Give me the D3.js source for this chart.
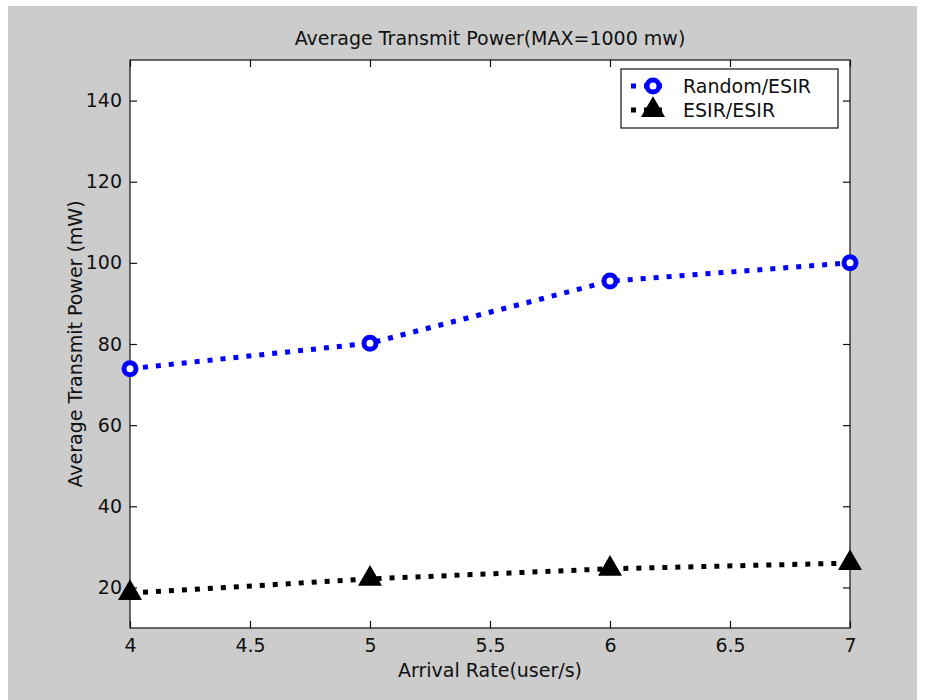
<!DOCTYPE html>
<html>
<head>
<meta charset="utf-8">
<script src="https://cdn.jsdelivr.net/npm/d3@7"></script>
<style>
  html, body { margin: 0; padding: 0; background: #ffffff; }
  svg { display: block; }
  text { font-family: "DejaVu Sans", sans-serif; fill: #111; }
</style>
</head>
<body>
<script>
// Arrival rates (users per second) on the x axis
const arrivalRates = [4, 5, 6, 7];
// Average transmit power in mW for each scheme
const randomEsir = [73.9, 80.2, 95.5, 100];
const esirEsir = [18.6, 22.1, 24.6, 26.0];
const seriesNames = ["Random/ESIR", "ESIR/ESIR"];
const xTicks = [4, 4.5, 5, 5.5, 6, 6.5, 7];
const yTicks = [20, 40, 60, 80, 100, 120, 140];
const chartTitle = "Average Transmit Power(MAX=1000 mw)";
const xLabel = "Arrival Rate(user/s)";
const yLabel = "Average Transmit Power (mW)";

const W = 927, H = 700;
const box = { left: 130, right: 850, top: 60, bottom: 628 };

const svg = d3.select("body").append("svg").attr("width", W).attr("height", H);

// figure background
svg.append("rect").attr("x", 8).attr("y", 6).attr("width", 909).attr("height", H - 6)
  .attr("fill", "#cccccc");

const x = d3.scaleLinear().domain([4, 7]).range([box.left, box.right]);
const y = d3.scaleLinear().domain([10, 150]).range([box.bottom, box.top]);

// plot area
svg.append("rect")
  .attr("x", box.left).attr("y", box.top)
  .attr("width", box.right - box.left).attr("height", box.bottom - box.top)
  .attr("fill", "#ffffff").attr("stroke", "#111").attr("stroke-width", 1.2);

const fmt = d => String(d);

const gx = svg.append("g").attr("transform", `translate(0,${box.bottom})`)
  .call(d3.axisBottom(x).tickValues(xTicks).tickFormat(fmt).tickSize(-7).tickPadding(10.5));
const gxt = svg.append("g").attr("transform", `translate(0,${box.top})`)
  .call(d3.axisTop(x).tickValues(xTicks).tickFormat("").tickSize(-7));
const gy = svg.append("g").attr("transform", `translate(${box.left},0)`)
  .call(d3.axisLeft(y).tickValues(yTicks).tickFormat(fmt).tickSize(-7).tickPadding(8));
const gyr = svg.append("g").attr("transform", `translate(${box.right},0)`)
  .call(d3.axisRight(y).tickValues(yTicks).tickFormat("").tickSize(-7));

[gx, gxt, gy, gyr].forEach(g => {
  g.select(".domain").remove();
  g.selectAll(".tick line").attr("stroke", "#111").attr("stroke-width", 1.2);
  g.selectAll(".tick text").attr("font-family", "DejaVu Sans, sans-serif")
    .attr("font-size", 19).attr("fill", "#111");
});

// titles
svg.append("text").attr("x", (box.left + box.right) / 2).attr("y", 45)
  .attr("text-anchor", "middle").attr("font-size", 19).text(chartTitle);
svg.append("text").attr("x", (box.left + box.right) / 2).attr("y", 677)
  .attr("text-anchor", "middle").attr("font-size", 19).text(xLabel);
svg.append("text").attr("transform", `translate(82,${(box.top + box.bottom) / 2}) rotate(-90)`)
  .attr("text-anchor", "middle").attr("font-size", 19).text(yLabel);

const line = d3.line().x(d => x(d[0])).y(d => y(d[1]));
const dash = "5,8";

const blueData = arrivalRates.map((r, i) => [r, randomEsir[i]]);
const blackData = arrivalRates.map((r, i) => [r, esirEsir[i]]);

svg.append("path").datum(blueData).attr("d", line)
  .attr("fill", "none").attr("stroke", "#0000ff").attr("stroke-width", 5)
  .attr("stroke-dasharray", dash);
svg.append("path").datum(blackData).attr("d", line)
  .attr("fill", "none").attr("stroke", "#000000").attr("stroke-width", 5)
  .attr("stroke-dasharray", dash);

svg.selectAll(".mk-circle").data(blueData).enter().append("circle")
  .attr("cx", d => x(d[0])).attr("cy", d => y(d[1])).attr("r", 6)
  .attr("fill", "#ffffff").attr("stroke", "#0000ff").attr("stroke-width", 5);

const tri = d3.symbol().type(d3.symbolTriangle).size(250);
svg.selectAll(".mk-tri").data(blackData).enter().append("path")
  .attr("transform", d => `translate(${x(d[0])},${y(d[1])})`)
  .attr("d", tri).attr("fill", "#000000");

// legend
const lg = svg.append("g");
lg.append("rect").attr("x", 621).attr("y", 69).attr("width", 217).attr("height", 59)
  .attr("fill", "#ffffff").attr("stroke", "#111").attr("stroke-width", 1.2);
const rows = [
  { name: seriesNames[0], color: "#0000ff", kind: "circle", cy: 86 },
  { name: seriesNames[1], color: "#000000", kind: "tri", cy: 110 }
];
rows.forEach(r => {
  lg.append("line").attr("x1", 631).attr("x2", 666).attr("y1", r.cy).attr("y2", r.cy)
    .attr("stroke", r.color).attr("stroke-width", 5).attr("stroke-dasharray", dash);
  if (r.kind === "circle") {
    lg.append("circle").attr("cx", 653).attr("cy", r.cy).attr("r", 6)
      .attr("fill", "#ffffff").attr("stroke", r.color).attr("stroke-width", 5);
  } else {
    lg.append("path").attr("transform", `translate(653,${r.cy})`)
      .attr("d", tri).attr("fill", r.color);
  }
  lg.append("text").attr("x", 683).attr("y", r.cy).attr("dy", "0.35em")
    .attr("font-size", 19).text(r.name);
});
</script>
</body>
</html>
